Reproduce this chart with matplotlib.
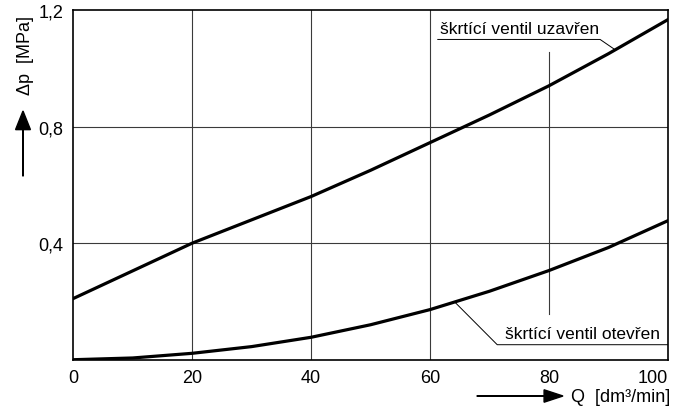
import matplotlib.pyplot as plt
from matplotlib.patches import FancyArrow

plt.rcParams['font.family'] = ['Liberation Sans Narrow', 'Liberation Sans', 'DejaVu Sans']

# flow rate Q [dm3/min] and pressure drop [MPa]
q = [0, 10, 20, 30, 40, 50, 60, 70, 80, 90, 100]
dp_closed = [0.21, 0.305, 0.40, 0.48, 0.56, 0.65, 0.745, 0.84, 0.94, 1.05, 1.167]
dp_open = [0.0, 0.006, 0.022, 0.045, 0.077, 0.12, 0.172, 0.235, 0.306, 0.385, 0.477]

x_ticks = [0, 20, 40, 60, 80, 100]
y_ticks = [0.4, 0.8, 1.2]
y_tick_labels = ['0,4', '0,8', '1,2']

label_closed = 'škrtící ventil uzavřen'
label_open = 'škrtící ventil otevřen'

fig = plt.figure(figsize=(6.76, 4.14), dpi=100)
ax = fig.add_axes([0.1084, 0.1287, 0.8796, 0.8447])

# grid lines
grid_kw = dict(color='#3a3a3a', lw=0.8, zorder=1)
for x in [20, 40, 60]:
    ax.axvline(x, **grid_kw)
for y in [0.4, 0.8]:
    ax.axhline(y, **grid_kw)
ax.plot([80, 80], [0.157, 1.056], **grid_kw)

ax.plot(q, dp_closed, color='black', lw=2.3, zorder=3)
ax.plot(q, dp_open, color='black', lw=2.3, zorder=3)

# labels with leader lines
lead_kw = dict(color='black', lw=0.7, zorder=2)
ax.plot([61.3, 88.6, 91.1], [1.099, 1.099, 1.064], **lead_kw)
ax.text(61.6, 1.112, label_closed, fontsize=12.5, ha='left', va='bottom')
ax.plot([64.2, 71.3, 100], [0.197, 0.0515, 0.0515], **lead_kw)
ax.text(72.6, 0.064, label_open, fontsize=12.5, ha='left', va='bottom')

ax.set_xlim(0, 100)
ax.set_ylim(0, 1.2)
ax.set_xticks(x_ticks)
ax.set_xticklabels([str(v) for v in x_ticks])
ax.get_xticklabels()[-1].set_horizontalalignment('right')
ax.set_yticks(y_ticks)
ax.set_yticklabels(y_tick_labels)
ax.tick_params(length=0, labelsize=13, pad=7)
for s in ax.spines.values():
    s.set_linewidth(1.2)

# axis titles with arrows
fig.text(25 / 676, 1 - 56 / 414, 'Δp  [MPa]', rotation=90, fontsize=13,
         ha='center', va='center')
fig.patches.append(FancyArrow(
    23 / 676, 1 - 177 / 414, 0, 65 / 414, width=0.0008, head_width=0.022,
    head_length=0.045, length_includes_head=True, color='black',
    transform=fig.transFigure, figure=fig))
fig.text(670 / 676, 1 - 398 / 414, 'Q  [dm³/min]', fontsize=13,
         ha='right', va='center')
fig.patches.append(FancyArrow(
    477 / 676, 1 - 397 / 414, 86 / 676, 0, width=0.0012, head_width=0.03,
    head_length=0.028, length_includes_head=True, color='black',
    transform=fig.transFigure, figure=fig))

fig.savefig('out.png', dpi=100)
